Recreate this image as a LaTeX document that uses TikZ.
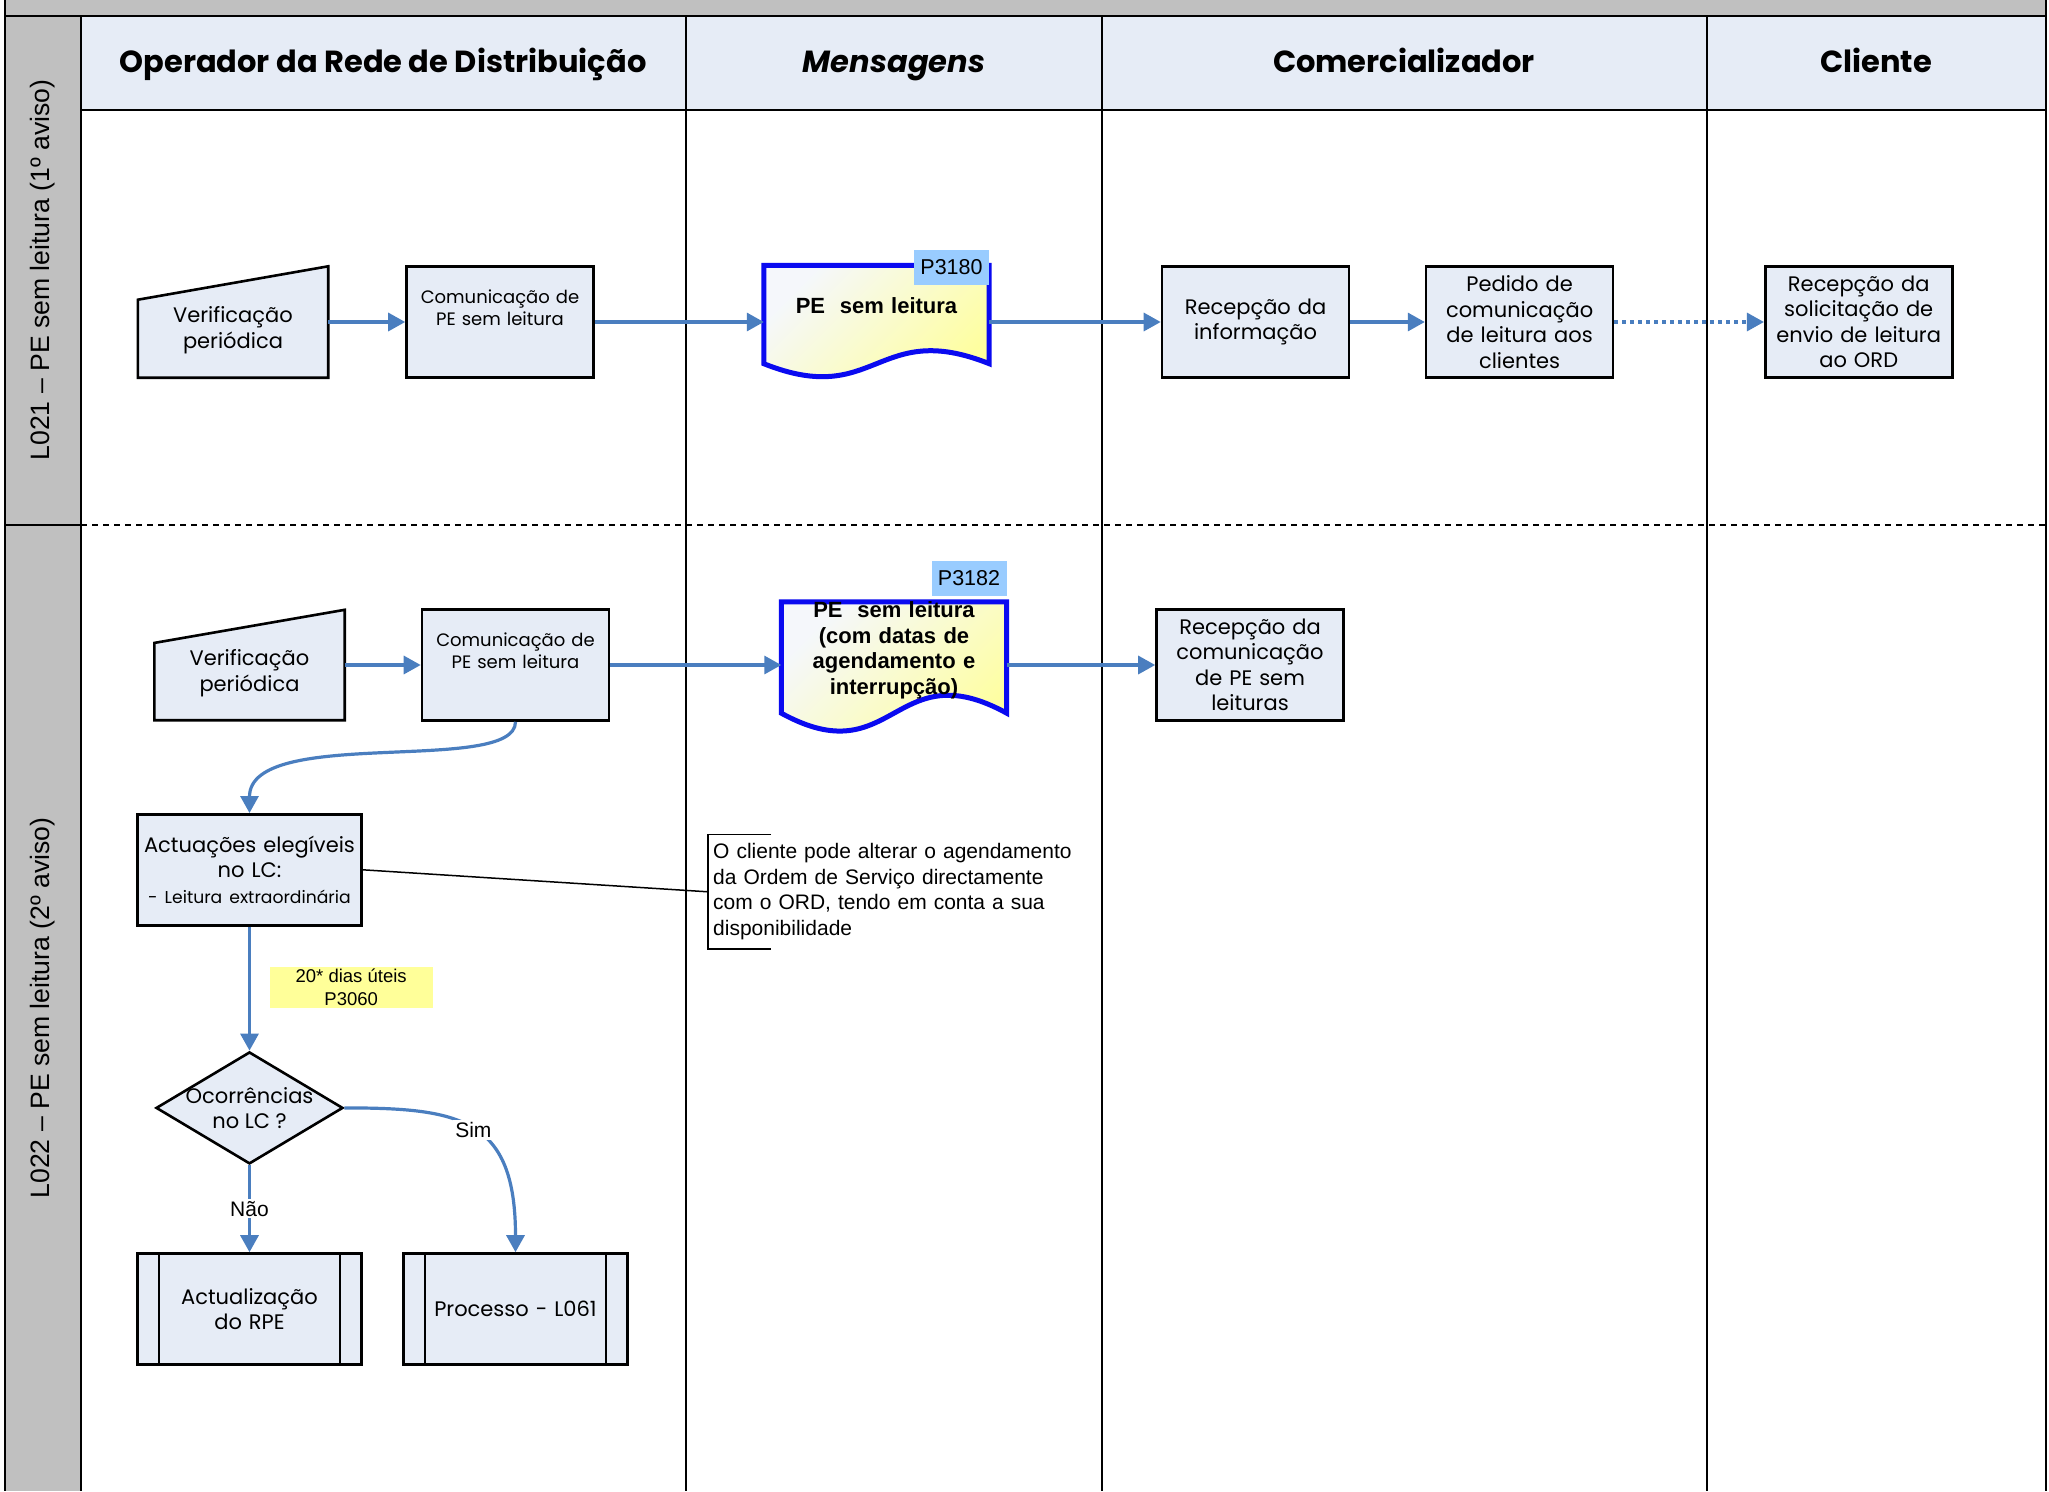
\documentclass[tikz,border=0pt]{standalone}
\usepackage{fontspec}
\setmainfont{Liberation Sans}
\newfontfamily\cgfont{Poppins}
\usetikzlibrary{positioning,arrows.meta,shapes,backgrounds,calc}

\definecolor{hdrfill}{HTML}{E6ECF6}
\definecolor{boxfill}{HTML}{E6ECF6}
\definecolor{lanegrey}{HTML}{C0C0C0}
\definecolor{flowblue}{HTML}{4A7EBF}
\definecolor{docblue}{HTML}{0A0AF0}
\definecolor{tagblue}{HTML}{99CCFF}
\definecolor{memoyellow}{HTML}{FFFF99}

\tikzstyle{procbox}=[rectangle, draw=black, fill=boxfill, line width=2.6pt, minimum width=187pt, minimum height=111pt, inner sep=2pt, text centered, text width=183pt, font=\cgfont\fontsize{21}{25.5}\selectfont]
\tikzstyle{sprocbox}=[procbox, text depth=50pt, font=\cgfont\fontsize{18}{22}\selectfont]
\tikzstyle{manbox}=[rectangle, minimum width=190pt, minimum height=110pt, inner sep=2pt, text centered, text width=184pt, text height=32pt, font=\cgfont\fontsize{21}{26}\selectfont]
\tikzstyle{manshape}=[draw=black, fill=boxfill, line width=2.6pt]
\tikzstyle{docbox}=[rectangle, minimum width=225pt, minimum height=98pt, inner xsep=2pt, inner ysep=0pt, text centered, text width=221pt, font=\bfseries\fontsize{22}{25.5}\selectfont]
\tikzstyle{docshape}=[draw=docblue, line width=5pt, top color=boxfill!40!white, bottom color=memoyellow, shading angle=45]
\tikzstyle{tagbox}=[rectangle, fill=tagblue, minimum width=75pt, minimum height=35pt, inner sep=0pt, font=\fontsize{21.5}{24}\selectfont]
\tikzstyle{decbox}=[diamond, draw=black, fill=boxfill, line width=2.6pt, minimum width=187pt, minimum height=112pt, inner sep=0pt]
\tikzstyle{flow}=[-{Triangle[length=17pt,width=18pt]}, line width=3.2pt, flowblue]
\tikzstyle{dflow}=[flow, dash pattern=on 4pt off 4pt]
\tikzstyle{lane}=[-, line width=1.5pt, black]
\tikzstyle{sepline}=[-, line width=2pt, black, dash pattern=on 6pt off 5pt]
\tikzstyle{noteline}=[-, line width=1.5pt, black]
\tikzstyle{notebox}=[rectangle, text width=360pt, align=left, inner sep=5pt, minimum height=114pt, font=\fontsize{21}{25.5}\selectfont]
\tikzstyle{memo}=[rectangle, fill=memoyellow, minimum width=163pt, minimum height=41pt, inner sep=0pt, align=center, font=\fontsize{18.5}{23}\selectfont]
\tikzstyle{lbl}=[fill=white, text=black, inner sep=2pt, font=\fontsize{21}{24}\selectfont]
\tikzstyle{hdr}=[text height=22pt, text depth=7pt, font=\cgfont\bfseries\fontsize{30.5}{36}\selectfont]
\tikzstyle{lanelbl}=[rotate=90, font=\fontsize{26.6}{30}\selectfont]

\begin{document}
\begin{tikzpicture}[x=1pt, y=-1pt, node distance=0mm]
\useasboundingbox (0,0) rectangle (2049,1491);
\begin{scope}[on background layer]
  \fill[white] (0,0) rectangle (2049,1491);
\end{scope}

% frame and lanes
\fill[lanegrey] (5,0) rectangle (2046,16);
\fill[lanegrey] (5,16) rectangle (81,1491);
\fill[hdrfill] (81,16) rectangle (2046,110);
\draw[lane] (5,0) -- (5,1491);
\draw[lane] (2046,0) -- (2046,1491);
\draw[lane] (5,16) -- (2046,16);
\draw[lane] (81,110) -- (2046,110);
\draw[lane, line width=2.5pt] (81,16) -- (81,1491);
\foreach \xc in {686,1102,1707}
    \draw[lane] (\xc,16) -- (\xc,1491);
\draw[lane] (5,525) -- (81,525);
\draw[sepline] (81,525) -- (2046,525);

% column headers
    \node (hord) [hdr] at (383,65) {Operador da Rede de Distribuição};
    \node (hmsg) [hdr, font=\cgfont\bfseries\itshape\fontsize{30.5}{36}\selectfont] at (894,65) {Mensagens};
    \node (hcom) [hdr] at (1404,65) {Comercializador};
    \node (hcli) [hdr] at (1876,65) {Cliente};

% lane labels
    \node (l021) [lanelbl] at (43,270) {L021 – PE sem leitura (1º aviso)};
    \node (l022) [lanelbl] at (43,1008) {L022 – PE sem leitura (2º aviso)};

% L021
    \node (ver1) [manbox, minimum height=111pt] at (233,322) {Verificação\\periódica};
    \node (com1) [sprocbox, right=77pt of ver1] {Comunicação de\\PE sem leitura};
    \node (doc1) [docbox, text depth=18pt, right=169pt of com1, yshift=7.5pt] {PE\ \ sem leitura};
    \node (p3180) [tagbox, anchor=north east] at ($(doc1.north east)+(0,-16)$) {P3180};
    \node (rec1) [procbox, right=171.5pt of doc1, yshift=-7.5pt] {Recepção da\\informação};
    \node (ped1) [procbox, right=74.5pt of rec1] {Pedido de\\comunicação\\de leitura aos\\clientes};
    \node (cli1) [procbox, right=149.5pt of ped1] {Recepção da\\solicitação de\\envio de leitura\\ao ORD};

% L022
    \node (ver2) [manbox] at (249.5,665) {Verificação\\periódica};
    \node (com2) [sprocbox, right=76pt of ver2] {Comunicação de\\PE sem leitura};
    \node (doc2) [docbox, minimum height=110pt, text depth=95pt, right=171pt of com2, yshift=7.5pt] {PE\ \ sem leitura\\(com datas de\\agendamento e\\interrupção)};
    \node (p3182) [tagbox, anchor=north east] at ($(doc2.north east)+(0,-41)$) {P3182};
    \node (rec2) [procbox, right=148.5pt of doc2, yshift=-7.5pt] {Recepção da\\comunicação\\de PE sem\\leituras};

    \node (act) [procbox, minimum width=224.4pt, text width=220pt, below=92.8pt of ver2] {Actuações elegíveis\\no LC:\\{\fontsize{17.2}{25}\selectfont - Leitura extraordinária}};
    \node (dias) [memo, below right=40pt and 20pt of act.south] {20* dias úteis\\P3060};
    \node (dia) [decbox, below=124pt of act, label={[align=center, font=\cgfont\fontsize{21}{25}\selectfont]center:{Ocorrências\\no LC ?}}] {};
    \node (rpe) [procbox, minimum width=224.4pt, below=87pt of dia] {Actualização\\do RPE};
    \node (lsix) [procbox, minimum width=224.4pt, right=39pt of rpe] {Processo - L061};

    \node (nota) [notebox, right=345pt of act, yshift=-22pt] {O cliente pode alterar o agendamento\\da Ordem de Serviço directamente\\com o ORD, tendo em conta a sua\\disponibilidade};

% shapes behind the text
\begin{scope}[on background layer]
  \foreach \m in {ver1,ver2}
    \draw[manshape] (\m.south west) -- (\m.south east) -- (\m.north east) -- ($(\m.north west)!0.3!(\m.south west)$) -- cycle;
  \draw[docshape] (doc1.south west) -- (doc1.north west) -- (doc1.north east) -- (doc1.south east) .. controls ($(doc1.south)+(0,-45)$) and ($(doc1.south)+(0,45)$) .. (doc1.south west) -- cycle;
  \draw[docshape] (doc2.south west) -- (doc2.north west) -- (doc2.north east) -- (doc2.south east) .. controls ($(doc2.south)+(0,-62)$) and ($(doc2.south)+(0,62)$) .. (doc2.south west) -- cycle;
\end{scope}

% sub-process bars
\foreach \p in {rpe,lsix}{
  \draw[line width=2.6pt] ($(\p.north west)+(23,0)$) -- ($(\p.south west)+(23,0)$);
  \draw[line width=2.6pt] ($(\p.north east)+(-23,0)$) -- ($(\p.south east)+(-23,0)$);
}

% note bracket
\draw[noteline] ($(nota.north west)+(63,0)$) -| (nota.south west) -- ++(63,0);

% connectors L021
\draw[flow] (ver1) -- (com1);
\draw[flow] (com1) -- (com1 -| doc1.west);
\draw[flow] (doc1.east |- rec1) -- (rec1);
\draw[flow] (rec1) -- (ped1);
\draw[dflow] (ped1) -- (cli1);

% connectors L022
\draw[flow] (ver2) -- (com2);
\draw[flow] (com2) -- (com2 -| doc2.west);
\draw[flow] (doc2.east |- rec2) -- (rec2);
\draw[flow] (com2.south) .. controls +(0,54) and +(0,-88) .. (act.north);
\draw[flow] (act) -- (dia);
\draw[flow] (dia) -- node[lbl]{Não} (rpe);
\draw[flow] (dia.east) .. controls +(116,0) and +(0,-134) .. node[lbl]{Sim} (lsix.north);
\draw[noteline] (act.east) -- (nota.west);

\end{tikzpicture}
\end{document}
